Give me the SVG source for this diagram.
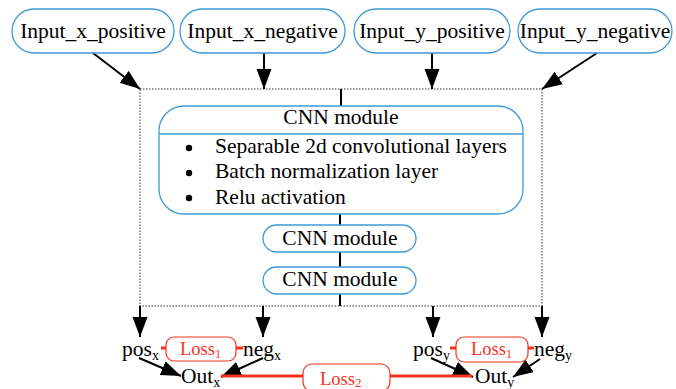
<svg xmlns="http://www.w3.org/2000/svg" width="676" height="389" viewBox="0 0 676 389">
<defs>
<style>
.nd{fill:#fff;stroke:#3d9bd6;stroke-width:1.3}
.t{font-family:"Liberation Serif","Times New Roman",serif;font-size:21.5px;fill:#000}
.tc{text-anchor:middle}
.sub{font-size:14px}
.red{fill:#fff;stroke:#f5321e;stroke-width:1.2}
.rt{font-family:"Liberation Serif","Times New Roman",serif;font-size:18.5px;fill:#f5321e}
.edge{stroke:#000;stroke-width:2;fill:none}
.arr{stroke:#000;stroke-width:2;fill:none;marker-end:url(#ah)}
.rl{stroke:#f5321e;stroke-width:3;fill:none}
.box{fill:none;stroke:#333;stroke-width:1;stroke-dasharray:1.5 1.5}
</style>
<marker id="ah" markerUnits="userSpaceOnUse" markerWidth="22" markerHeight="16" refX="20" refY="7.5" orient="auto">
<path d="M0,0 L20,7.5 L0,15 z" fill="#000"/>
</marker>
</defs>
<rect width="676" height="389" fill="#fff"/>

<rect id="cluster" class="box" x="140" y="89" width="402" height="217"/>

<g id="connectors">
<line class="arr" x1="93" y1="53" x2="140" y2="89"/>
<line class="arr" x1="264" y1="53" x2="264" y2="89"/>
<line class="arr" x1="432" y1="53" x2="432" y2="89"/>
<line class="arr" x1="597" y1="53" x2="542" y2="89"/>
<line class="edge" x1="341" y1="89" x2="341" y2="106"/>
<line class="edge" x1="340" y1="214" x2="340" y2="225"/>
<line class="edge" x1="340" y1="252" x2="340" y2="267"/>
<line class="edge" x1="340" y1="294" x2="340" y2="306"/>
<line class="arr" x1="140" y1="306" x2="140" y2="337"/>
<line class="arr" x1="263" y1="306" x2="263" y2="337"/>
<line class="arr" x1="433" y1="306" x2="433" y2="337"/>
<line class="arr" x1="542" y1="306" x2="542" y2="337"/>
<line class="arr" x1="139" y1="358" x2="181" y2="376"/>
<line class="arr" x1="263" y1="358" x2="221" y2="377"/>
<line class="arr" x1="431" y1="358" x2="473" y2="377"/>
<line class="arr" x1="540" y1="359" x2="513" y2="377"/>
<line class="rl" x1="161" y1="348" x2="166" y2="348"/>
<line class="rl" x1="236" y1="348" x2="243" y2="348"/>
<line class="rl" x1="450" y1="348" x2="456" y2="348"/>
<line class="rl" x1="528" y1="348" x2="534" y2="348"/>
<line class="rl" x1="221" y1="376" x2="303" y2="376"/>
<line class="rl" x1="390" y1="376" x2="472" y2="376"/>
</g>

<g id="in_xp"><rect class="nd" x="12" y="9" width="162" height="44" rx="22"/><text class="t tc" x="93" y="38">Input_x_positive</text></g>
<g id="in_xn"><rect class="nd" x="180" y="9" width="165" height="44" rx="22"/><text class="t tc" x="262.5" y="38">Input_x_negative</text></g>
<g id="in_yp"><rect class="nd" x="354" y="9" width="156" height="44" rx="22"/><text class="t tc" x="432" y="38">Input_y_positive</text></g>
<g id="in_yn"><rect class="nd" x="518" y="9" width="154" height="44" rx="22"/><text class="t tc" x="595" y="38">Input_y_negative</text></g>

<g id="cnn1">
<rect class="nd" x="159" y="106" width="364" height="108" rx="25"/>
<line x1="159" y1="134" x2="523" y2="134" stroke="#3d9bd6" stroke-width="1.3"/>
<text class="t tc" x="341" y="124">CNN module</text>
<circle cx="189" cy="148" r="3.2" fill="#000"/>
<circle cx="189" cy="173" r="3.2" fill="#000"/>
<circle cx="189" cy="198" r="3.2" fill="#000"/>
<text class="t" x="215" y="153">Separable 2d convolutional layers</text>
<text class="t" x="215" y="178">Batch normalization layer</text>
<text class="t" x="215" y="204">Relu activation</text>
</g>
<g id="cnn2"><rect class="nd" x="263" y="225" width="153" height="27" rx="13.5"/><text class="t tc" x="340" y="245">CNN module</text></g>
<g id="cnn3"><rect class="nd" x="263" y="267" width="153" height="27" rx="13.5"/><text class="t tc" x="340" y="286">CNN module</text></g>

<g id="pos_x"><text class="t" x="122" y="356">pos<tspan class="sub" dy="4">x</tspan></text></g>
<g id="neg_x"><text class="t" x="243" y="356">neg<tspan class="sub" dy="4">x</tspan></text></g>
<g id="loss1_x"><rect class="red" x="166" y="337" width="70" height="24" rx="8"/><text class="rt" x="180" y="355">Loss<tspan font-size="12" dy="3">1</tspan></text></g>
<g id="out_x"><text class="t" x="181" y="383">Out<tspan class="sub" dy="4">x</tspan></text></g>

<g id="pos_y"><text class="t" x="413" y="356">pos<tspan class="sub" dy="4">y</tspan></text></g>
<g id="neg_y"><text class="t" x="534" y="356">neg<tspan class="sub" dy="4">y</tspan></text></g>
<g id="loss1_y"><rect class="red" x="456" y="337" width="72" height="25" rx="8"/><text class="rt" x="471" y="355">Loss<tspan font-size="12" dy="3">1</tspan></text></g>
<g id="out_y"><text class="t" x="475" y="383">Out<tspan class="sub" dy="4">y</tspan></text></g>

<g id="loss2"><rect class="red" x="303" y="364" width="87" height="27" rx="9"/><text class="rt" x="320" y="385">Loss<tspan font-size="13" dy="2">2</tspan></text></g>
</svg>
